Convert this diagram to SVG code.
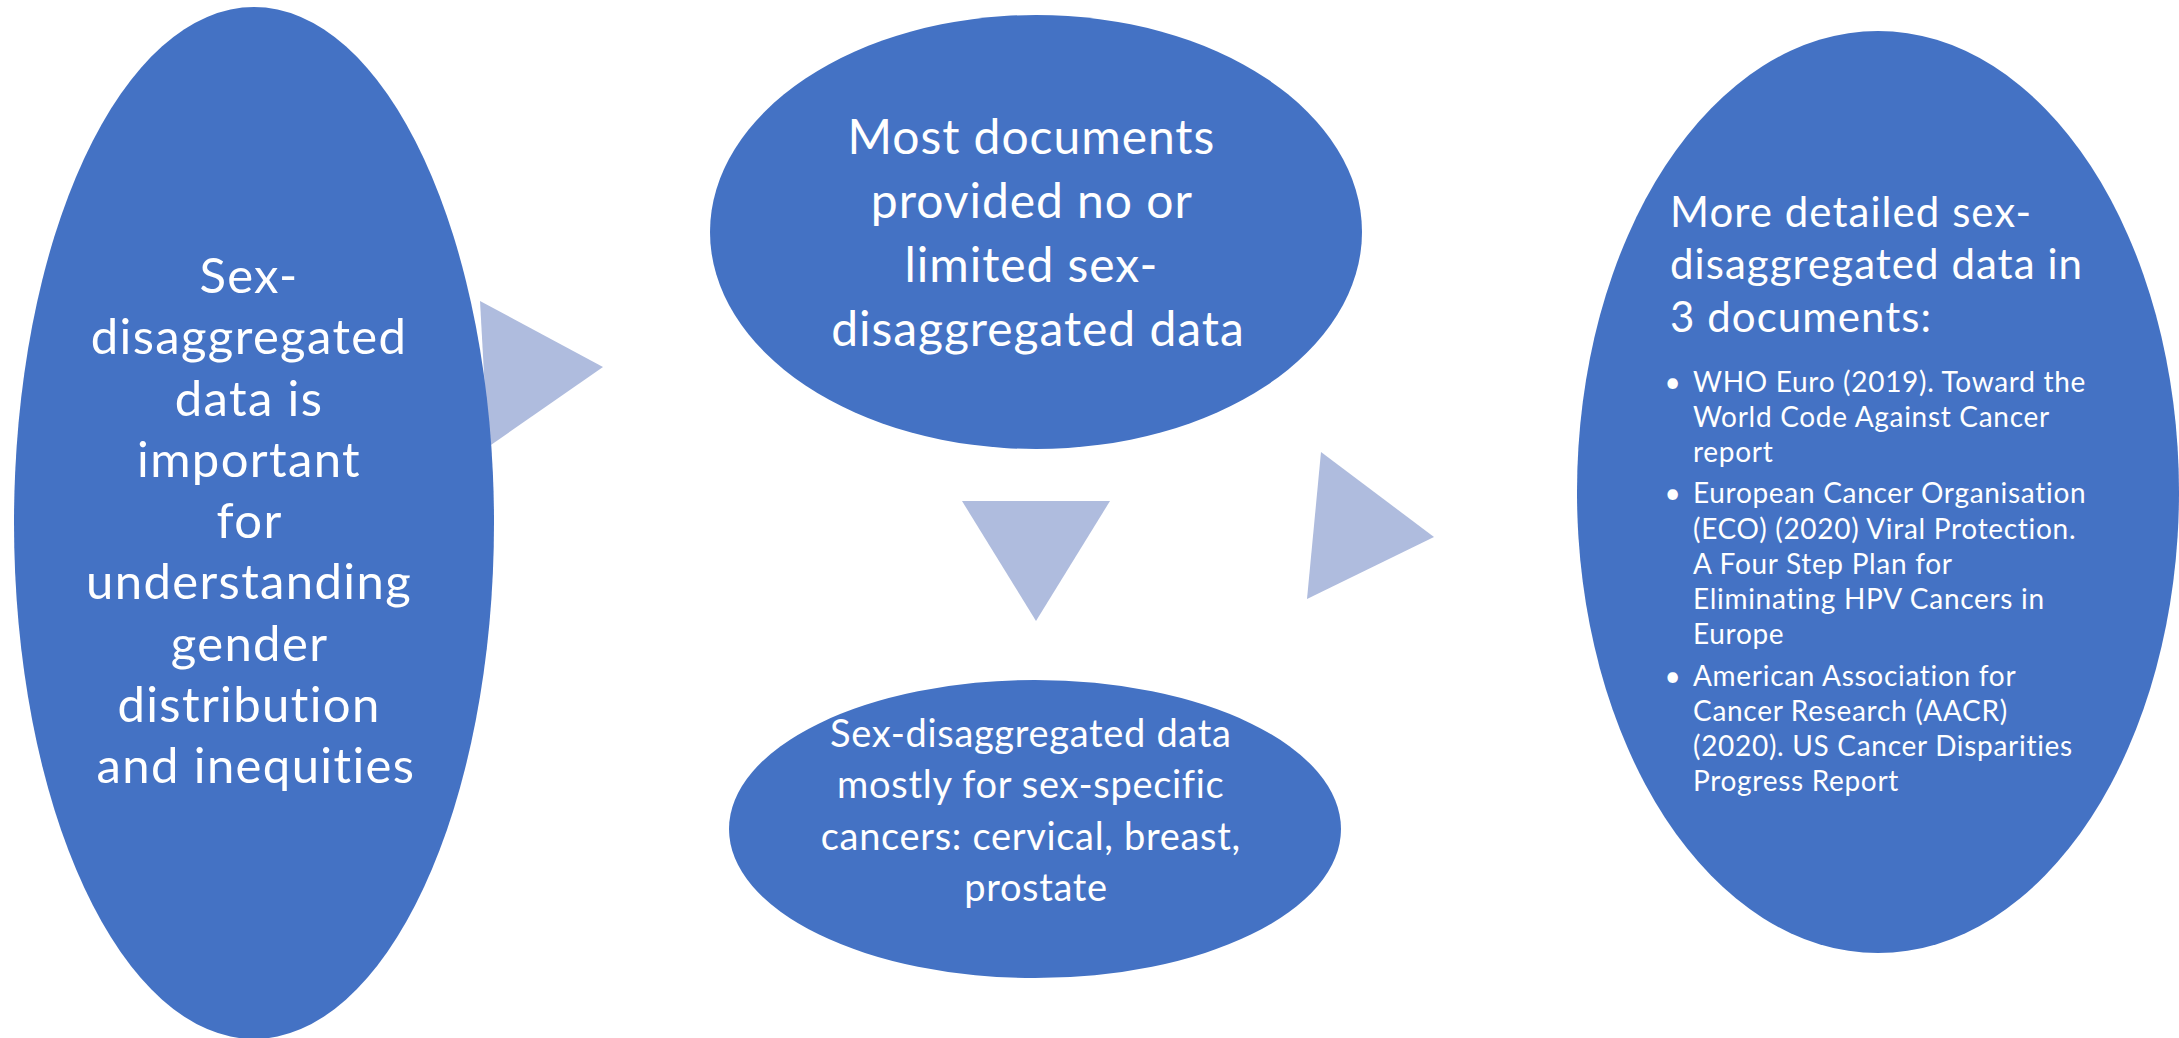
<svg xmlns="http://www.w3.org/2000/svg" width="2179" height="1038" viewBox="0 0 2179 1038">
<style>
.node{fill:#4472C4;}
.arrow{fill:#AFBCDE;}
text{font-family:Lato,"Open Sans","Liberation Sans",sans-serif;fill:#FFFFFF;font-variant-ligatures:none;}
.c{text-anchor:middle;}
.t1{font-size:49px;letter-spacing:0.028em;}
.t2{font-size:48px;letter-spacing:0.02em;}
.t3{font-size:38px;letter-spacing:0.018em;}
.t4{font-size:42px;letter-spacing:0.025em;}
.t5{font-size:28px;letter-spacing:0.025em;}
</style>
<rect x="0" y="0" width="2179" height="1038" fill="#FFFFFF"/>
<g id="connectors">
<polygon class="arrow" points="480,301 603,367 488,447"/>
<polygon class="arrow" points="962,501 1110,501 1036,621"/>
<polygon class="arrow" points="1321,452 1434,537 1307,599"/>
</g>
<g id="node-left">
<ellipse class="node" cx="254" cy="523" rx="240" ry="516"/>
<text class="c t1">
<tspan x="256" y="293">Sex-</tspan>
<tspan x="256" y="354.25">disaggregated</tspan>
<tspan x="256" y="415.5">data is</tspan>
<tspan x="256" y="476.75">important</tspan>
<tspan x="256" y="538">for</tspan>
<tspan x="256" y="599.25">understanding</tspan>
<tspan x="256" y="660.5">gender</tspan>
<tspan x="256" y="721.75">distribution</tspan>
<tspan x="256" y="783">and inequities</tspan>
</text>
</g>
<g id="node-top">
<ellipse class="node" cx="1036" cy="232" rx="326" ry="217"/>
<text class="c t2">
<tspan x="1038" y="153.5">Most documents</tspan>
<tspan x="1038" y="217.5">provided no or</tspan>
<tspan x="1038" y="281.5">limited sex-</tspan>
<tspan x="1038" y="345.5">disaggregated data</tspan>
</text>
</g>
<g id="node-bottom">
<ellipse class="node" cx="1035" cy="829" rx="306" ry="149"/>
<text class="c t3">
<tspan x="1036" y="746.5">Sex-disaggregated data</tspan>
<tspan x="1036" y="798">mostly for sex-specific</tspan>
<tspan x="1036" y="849.5">cancers: cervical, breast,</tspan>
<tspan x="1036" y="901">prostate</tspan>
</text>
</g>
<g id="node-right">
<ellipse class="node" cx="1878" cy="492" rx="301" ry="461"/>
<text class="t4">
<tspan x="1670" y="226.5">More detailed sex-</tspan>
<tspan x="1670" y="279">disaggregated data in</tspan>
<tspan x="1670" y="331.5">3 documents:</tspan>
</text>
<text class="t5">
<tspan x="1677" y="391.7" class="c">•</tspan>
<tspan x="1693" y="391.7">WHO Euro (2019). Toward the</tspan>
<tspan x="1693" y="426.7">World Code Against Cancer</tspan>
<tspan x="1693" y="461.7">report</tspan>
<tspan x="1677" y="503.3" class="c">•</tspan>
<tspan x="1693" y="503.3">European Cancer Organisation</tspan>
<tspan x="1693" y="538.8">(ECO) (2020) Viral Protection.</tspan>
<tspan x="1693" y="574.3">A Four Step Plan for</tspan>
<tspan x="1693" y="609.3">Eliminating HPV Cancers in</tspan>
<tspan x="1693" y="644.3">Europe</tspan>
<tspan x="1677" y="686" class="c">•</tspan>
<tspan x="1693" y="686">American Association for</tspan>
<tspan x="1693" y="721">Cancer Research (AACR)</tspan>
<tspan x="1693" y="756">(2020). US Cancer Disparities</tspan>
<tspan x="1693" y="791">Progress Report</tspan>
</text>
</g>
</svg>
